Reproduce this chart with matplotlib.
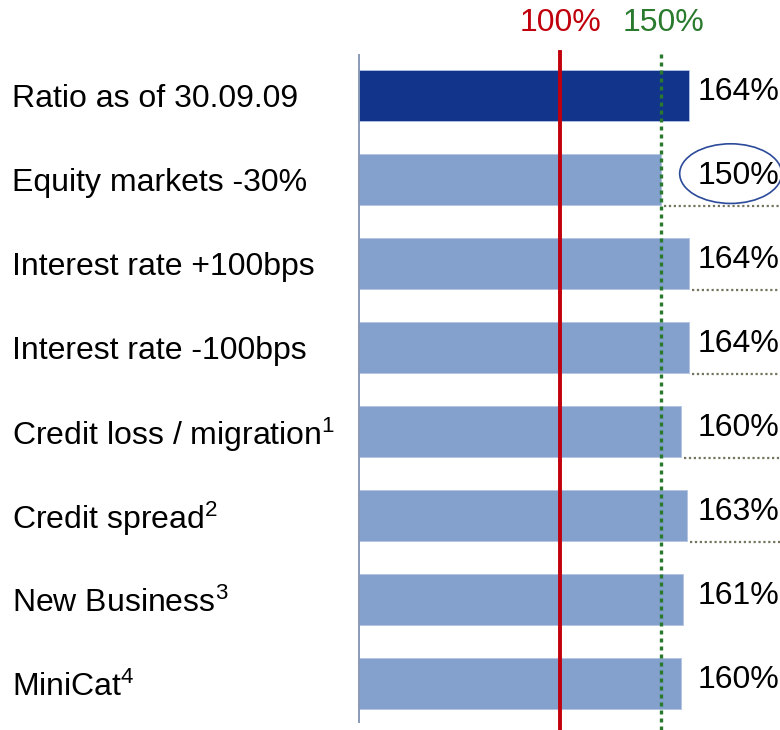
import matplotlib
matplotlib.use("Agg")
import matplotlib.pyplot as plt
from matplotlib.patches import Ellipse
from matplotlib.transforms import blended_transform_factory

plt.rcParams["font.family"] = ["Liberation Sans", "DejaVu Sans"]
plt.rcParams["mathtext.fontset"] = "custom"
plt.rcParams["mathtext.rm"] = "Liberation Sans"
plt.rcParams["mathtext.it"] = "Liberation Sans"

# scenario labels and solvency ratios (%)
scenarios = [
    "Ratio as of 30.09.09",
    "Equity markets -30%",
    "Interest rate +100bps",
    "Interest rate -100bps",
    "Credit loss / migration$^{1}$",
    "Credit spread$^{2}$",
    "New Business$^{3}$",
    "MiniCat$^{4}$",
]
ratios = [164, 150, 164, 164, 160, 163, 161, 160]
thresholds = [100, 150]
threshold_labels = ["100%", "150%"]
underlined = [1, 2, 3, 4, 5]  # rows with dotted line under the value

DARK = "#12348a"
LIGHT = "#84a0cd"
RED = "#c0000c"
GREEN = "#2a7a2e"

W, H = 780, 730
fig = plt.figure(figsize=(W / 100, H / 100), dpi=100)
x0 = 358
px_per_pct = 2.02
ax = fig.add_axes([x0 / W, 0, 1 - x0 / W, 1])
ax.set_xlim(0, (W - x0) / px_per_pct)
spacing = 84.0
yc0 = 95.5
ax.set_ylim((H - yc0) / spacing, -yc0 / spacing)
ax.set_axis_off()

rows = list(range(len(scenarios)))
colors = [DARK] + [LIGHT] * (len(scenarios) - 1)
ax.barh(rows, ratios, height=0.61, color=colors, edgecolor="#b3c3e2",
        linewidth=0.6, zorder=2)

# left axis line
ax.plot([0.4, 0.4], [-0.48, 7.46], color="#8a9ab8", lw=1.4, zorder=3,
        clip_on=False)

# thresholds
ax.axvline(thresholds[0], ymin=0, ymax=0.929, color=RED, lw=2.8, zorder=4)
ax.axvline(thresholds[1], ymin=0, ymax=0.929, color=GREEN, lw=2.4,
           ls=(0, (1.2, 1.2)), zorder=4)
ax.text(thresholds[0], -0.86, threshold_labels[0], color=RED, fontsize=23,
        ha="center", va="center")
ax.text(thresholds[1] + 1, -0.86, threshold_labels[1], color=GREEN,
        fontsize=23, ha="center", va="center")

trans = blended_transform_factory(fig.transFigure, ax.transData)
for i, (label, r) in enumerate(zip(scenarios, ratios)):
    ax.text(12 / W, i + 0.04, label, transform=trans, fontsize=23,
            ha="left", va="center")
    ax.text(168.3, i - 0.045, f"{r}%", fontsize=23, ha="left", va="center",
            clip_on=False)
    if i in underlined:
        ax.plot([r + 1.5, ax.get_xlim()[1]], [i + 0.32, i + 0.32],
                color="#75755f", lw=1.6, ls=(0, (1, 1.2)), zorder=3,
                clip_on=False)

# highlight the stressed equity scenario
ax.add_patch(Ellipse((184.5, 0.93), 50.5, 0.71, fill=False,
                     edgecolor="#2c4a9a", lw=1.2, clip_on=False, zorder=5))

fig.savefig("out.png", dpi=100)
